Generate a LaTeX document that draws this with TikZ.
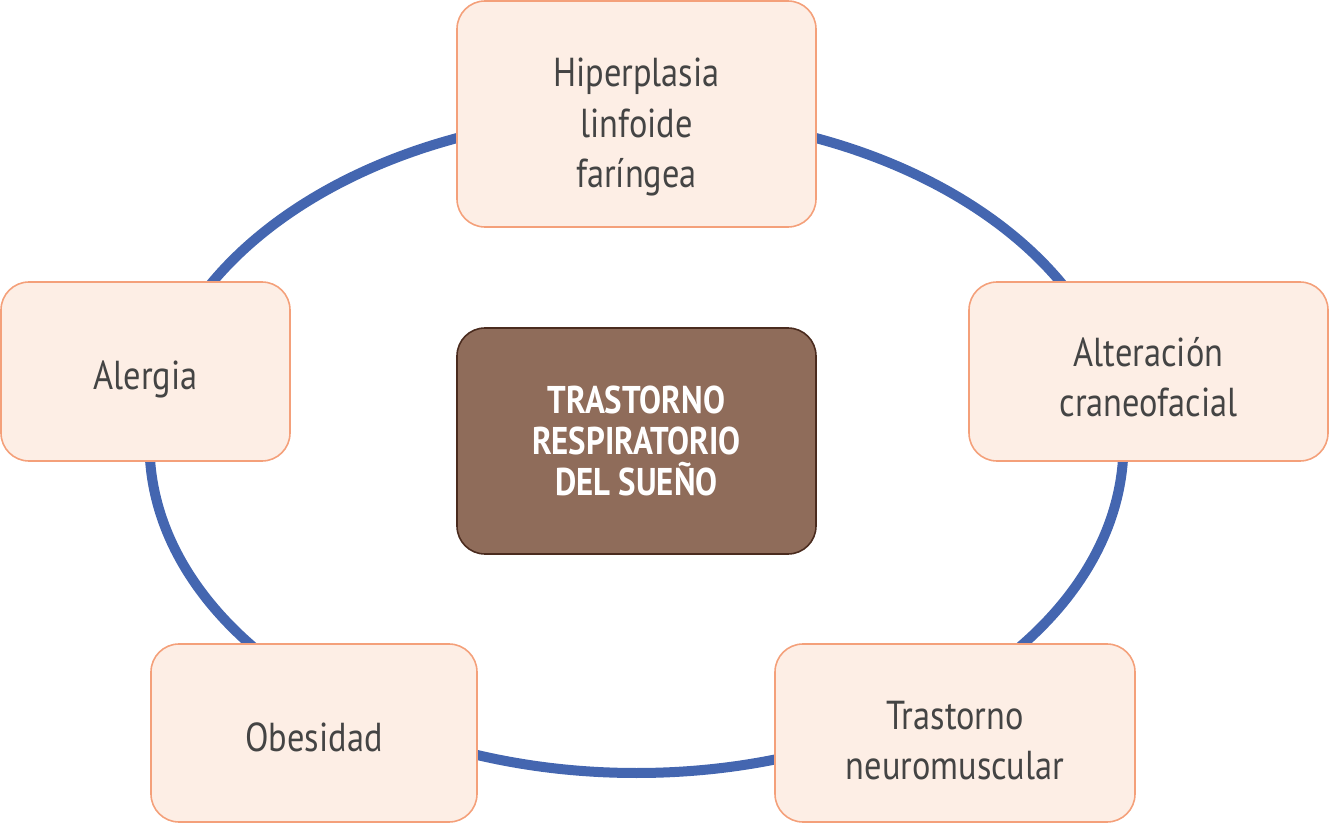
\documentclass[tikz,border=0pt]{standalone}
\usepackage{fontspec}
\setmainfont{PT Sans}[FakeStretch=0.85]
\definecolor{ringblue}{HTML}{4466B0}
\definecolor{boxfill}{HTML}{FDEEE5}
\definecolor{boxline}{HTML}{F4A07A}
\definecolor{corefill}{HTML}{8F6C5A}
\definecolor{coreline}{HTML}{4A2B1E}
\definecolor{txt}{HTML}{444444}
\tikzset{
  causebox/.style={draw=boxline, fill=boxfill, line width=0.9pt, rounded corners=0.56cm,
    inner sep=0pt},
  causetext/.style={inner sep=0pt, align=center, text=txt,
    font=\fontsize{23}{28.5}\selectfont},
  corebox/.style={draw=coreline, fill=corefill, line width=0.9pt, rounded corners=0.56cm,
    inner sep=0pt, align=center, text=white,
    font=\bfseries\fontsize{22}{23.4}\selectfont},
}
\begin{document}
\begin{tikzpicture}
\useasboundingbox (0,0) rectangle (26.6,16.5);
\draw[ringblue, line width=0.2cm] (12.73,7.62) ellipse [x radius=9.74, y radius=6.58];
\node[causebox, minimum width=7.18cm, minimum height=4.52cm] (hip) at (12.73,14.22) {};
\node[causetext] (hipT) at ([yshift=-0.26cm]hip.center) {Hiperplasia\\linfoide\\faríngea};
\node[causebox, minimum width=5.78cm, minimum height=3.58cm] (ale) at (2.91,9.07) {};
\node[causetext] (aleT) at ([yshift=-0.16cm]ale.center) {Alergia};
\node[causebox, minimum width=7.18cm, minimum height=3.58cm] (cra) at (22.97,9.07) {};
\node[causetext] (craT) at ([yshift=-0.12cm]cra.center) {Alteración\\craneofacial};
\node[causebox, minimum width=6.52cm, minimum height=3.56cm] (obe) at (6.28,1.84) {};
\node[causetext] (obeT) at ([yshift=-0.08cm]obe.center) {Obesidad};
\node[causebox, minimum width=7.2cm, minimum height=3.56cm] (neu) at (19.1,1.84) {};
\node[causetext] (neuT) at ([yshift=-0.15cm]neu.center) {Trastorno\\neuromuscular};
\node[corebox, minimum width=7.18cm, minimum height=4.52cm] (core) at (12.73,7.68) {TRASTORNO\\RESPIRATORIO\\DEL SUEÑO};
\end{tikzpicture}
\end{document}
